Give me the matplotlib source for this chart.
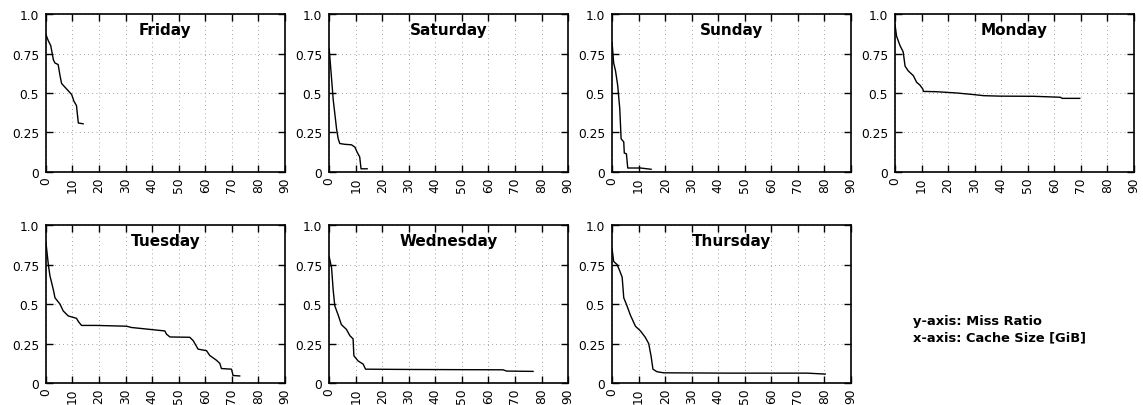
import matplotlib
matplotlib.use("Agg")
import matplotlib.pyplot as plt

# miss ratio curves (cache size GiB, miss ratio)
friday_x = [0, 0.9, 1.8, 2.8, 3.4, 4.6, 5.3, 5.9, 7.8, 9.7, 10.5, 11.5, 12.2, 14.0]
friday_y = [0.87, 0.83, 0.80, 0.71, 0.69, 0.68, 0.61, 0.56, 0.525, 0.49, 0.45, 0.42, 0.31, 0.305]

saturday_x = [0, 0.9, 1.5, 2.8, 3.4, 4.0, 5.9, 8.4, 9.7, 10.5, 11.5, 12.0, 14.3]
saturday_y = [0.78, 0.59, 0.46, 0.27, 0.21, 0.18, 0.175, 0.172, 0.157, 0.126, 0.095, 0.02, 0.02]

sunday_x = [0, 0.6, 1.3, 2.1, 2.9, 3.4, 4.4, 4.6, 5.4, 5.9, 10.7, 14.7]
sunday_y = [0.82, 0.69, 0.64, 0.55, 0.40, 0.21, 0.19, 0.12, 0.115, 0.025, 0.025, 0.017]

monday_x = [0, 0.6, 1.9, 3.1, 3.8, 5.0, 6.9, 8.2, 9.4, 10.5, 10.7, 15.7, 23.3, 29.6,
            33.4, 39.7, 52.3, 62.3, 63.0, 69.6]
monday_y = [0.935, 0.86, 0.80, 0.76, 0.67, 0.64, 0.61, 0.567, 0.55, 0.525, 0.51, 0.508,
            0.50, 0.49, 0.483, 0.48, 0.479, 0.473, 0.466, 0.466]

tuesday_x = [0, 0.9, 1.5, 2.8, 3.4, 5.3, 6.5, 8.4, 11.5, 12.2, 13.4, 19.0, 30.4, 32.2,
             39.1, 44.8, 45.4, 46.7, 54.2, 55.5, 57.3, 60.5, 61.7, 64.2, 65.5, 66.1,
             69.9, 70.5, 73.0]
tuesday_y = [0.89, 0.75, 0.68, 0.59, 0.54, 0.50, 0.457, 0.425, 0.41, 0.39, 0.365, 0.365,
             0.36, 0.352, 0.34, 0.33, 0.31, 0.292, 0.29, 0.268, 0.215, 0.205, 0.175,
             0.145, 0.125, 0.092, 0.088, 0.048, 0.045]

wednesday_x = [0, 0.9, 1.5, 2.1, 3.4, 4.6, 6.5, 7.8, 9.0, 9.3, 10.9, 12.8, 13.7, 31.6,
               65.5, 66.8, 76.8]
wednesday_y = [0.80, 0.73, 0.59, 0.49, 0.43, 0.37, 0.34, 0.30, 0.28, 0.173, 0.14, 0.12,
               0.088, 0.086, 0.084, 0.076, 0.074]

thursday_x = [0, 0.6, 1.9, 2.9, 3.8, 4.4, 5.6, 6.9, 8.8, 10.7, 12.5, 13.8, 14.7, 15.4,
              16.9, 19.4, 43.3, 73.4, 80.3]
thursday_y = [0.85, 0.77, 0.75, 0.71, 0.67, 0.54, 0.49, 0.43, 0.36, 0.33, 0.29, 0.25,
              0.17, 0.088, 0.072, 0.065, 0.063, 0.063, 0.057]

days = ["Friday", "Saturday", "Sunday", "Monday", "Tuesday", "Wednesday", "Thursday"]
curves = [(friday_x, friday_y), (saturday_x, saturday_y), (sunday_x, sunday_y),
          (monday_x, monday_y), (tuesday_x, tuesday_y), (wednesday_x, wednesday_y),
          (thursday_x, thursday_y)]

x_ticks = list(range(0, 100, 10))
y_ticks = [0, 0.25, 0.5, 0.75, 1.0]
y_tick_labels = ["0", "0.25", "0.5", "0.75", "1.0"]

fig = plt.figure(figsize=(11.43, 4.06), dpi=100)

lefts = [0.0402, 0.288, 0.5355, 0.783]
bottoms = [0.574, 0.054]
w, h = 0.209, 0.389

for i, (day, (xs, ys)) in enumerate(zip(days, curves)):
    row, col = divmod(i, 4)
    ax = fig.add_axes([lefts[col], bottoms[row], w, h])
    ax.plot(xs, ys, color="black", linewidth=1.0)
    ax.set_xlim(0, 90)
    ax.set_ylim(0, 1.0)
    ax.set_xticks(x_ticks)
    ax.set_xticklabels([str(t) for t in x_ticks], rotation=90)
    ax.set_yticks(y_ticks)
    ax.set_yticklabels(y_tick_labels)
    ax.tick_params(direction="in", length=5, width=1, top=True, right=True,
                   labelsize=8.8)
    ax.tick_params(axis="x", pad=3)
    ax.tick_params(axis="y", pad=5)
    ax.grid(True, linestyle=(0, (1, 4)), color="#888888", linewidth=0.6)
    for sp in ax.spines.values():
        sp.set_linewidth(1.2)
    ax.text(0.5, 0.9, day, transform=ax.transAxes, ha="center", va="center",
            fontsize=11, fontweight="bold")

fig.text(0.799, 0.209, "y-axis: Miss Ratio", fontsize=9.4, fontweight="bold",
         va="center", ha="left")
fig.text(0.799, 0.167, "x-axis: Cache Size [GiB]", fontsize=9.4, fontweight="bold",
         va="center", ha="left")

fig.savefig("out.png", dpi=100)
